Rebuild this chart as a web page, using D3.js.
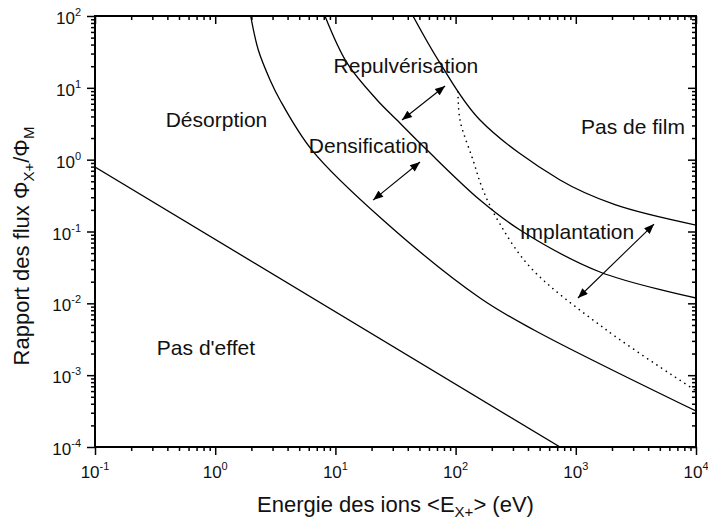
<!DOCTYPE html>
<html><head><meta charset="utf-8">
<script src="https://cdn.jsdelivr.net/npm/d3@7"></script>
<style>body{margin:0;background:#fff}svg{display:block;font-family:"Liberation Sans",Arial,sans-serif}</style>
</head><body><svg id="c" width="708" height="525"></svg>
<script>
// ---- data ----
const energyDomain = [0.1, 1e4];
const ratioDomain = [1e-4, 1e2];
const xTicks = [0.1, 1, 10, 100, 1000, 10000];
const xTickExp = ["-1", "0", "1", "2", "3", "4"];
const yTicks = [1e-4, 1e-3, 1e-2, 1e-1, 1, 10, 100];
const yTickExp = ["-4", "-3", "-2", "-1", "0", "1", "2"];

// [energy eV, flux ratio]
const boundaryEffet = [[0.1, 0.79], [739, 1e-4]];
const boundaryDensification = [[1.974, 100], [2.284, 33.6], [2.86, 12.9], [3.46, 6.78], [6.38, 1.36], [24.9, 0.1445], [159.6, 0.01186], [448.7, 0.004256], [10000, 3.17e-4]];
const boundaryRepulverisation = [[8.19, 100], [12.49, 22.2], [22.2, 6.78], [32.5, 3.56], [57.8, 1.36], [159.6, 0.274], [343.5, 0.105], [1589, 0.0273], [10000, 0.01186]];
const boundaryFilm = [[44.2, 100], [74.1, 22.2], [159.6, 3.56], [739, 0.521], [2118, 0.2366], [10000, 0.123]];
const boundaryImplantation = [[104.7, 8.75], [108.8, 3.56], [139.6, 0.989], [169, 0.378], [234, 0.127], [424, 0.031], [1750, 0.0044], [9810, 6.2e-4]];

const arrows = [
  [[35.8, 3.56], [81.7, 10.6]],
  [[20.6, 0.274], [50.6, 0.927]],
  [[1042, 0.01186], [4478, 0.127]]
];
const labels = [
  {text: "Repulvérisation", e: 38.6, r: 16.1},
  {text: "Désorption", e: 1.025, r: 2.85},
  {text: "Densification", e: 19.0, r: 1.24},
  {text: "Pas de film", e: 2992, r: 2.27},
  {text: "Implantation", e: 1023, r: 0.0786},
  {text: "Pas d'effet", e: 0.838, r: 0.00191}
];

// ---- drawing ----
const svg = d3.select("#c");
const L = 95, R = 696, T = 16, B = 447;
const x = d3.scaleLog().domain(energyDomain).range([L, R]);
const y = d3.scaleLog().domain(ratioDomain).range([B, T]);

svg.append("defs").append("clipPath").attr("id", "clip")
  .append("rect").attr("x", L).attr("y", T).attr("width", R - L).attr("height", B - T);
const mk = svg.select("defs").append("marker").attr("id", "ah")
  .attr("viewBox", "0 0 10 8").attr("refX", 10).attr("refY", 4)
  .attr("markerUnits", "userSpaceOnUse").attr("markerWidth", 11).attr("markerHeight", 8)
  .attr("orient", "auto-start-reverse");
mk.append("path").attr("d", "M0,0 L10,4 L0,8 Z").attr("fill", "#000");

const g = svg.append("g").attr("clip-path", "url(#clip)");
const line = d3.line().x(d => x(d[0])).y(d => y(d[1])).curve(d3.curveCatmullRom.alpha(0.5));
[boundaryEffet, boundaryDensification, boundaryRepulverisation, boundaryFilm].forEach(s => {
  g.append("path").attr("d", line(s)).attr("fill", "none").attr("stroke", "#000").attr("stroke-width", 1.3);
});
g.append("path").attr("d", line(boundaryImplantation)).attr("fill", "none").attr("stroke", "#000")
  .attr("stroke-width", 1.6).attr("stroke-dasharray", "0.1 5.5").attr("stroke-linecap", "round");

arrows.forEach(a => {
  svg.append("line").attr("x1", x(a[0][0])).attr("y1", y(a[0][1])).attr("x2", x(a[1][0])).attr("y2", y(a[1][1]))
    .attr("stroke", "#000").attr("stroke-width", 1.1)
    .attr("marker-start", "url(#ah)").attr("marker-end", "url(#ah)");
});

labels.forEach(l => {
  svg.append("text").attr("x", x(l.e)).attr("y", y(l.r)).attr("text-anchor", "middle")
    .attr("font-size", 21).attr("fill", "#111").text(l.text);
});

// axes
function styleAxis(sel) {
  sel.select(".domain").remove();
  sel.selectAll(".tick line").attr("stroke", "#000").attr("stroke-width", 1.5);
  sel.selectAll(".tick text").remove();
}
const xMinor = x.ticks().filter(v => !xTicks.some(t => Math.abs(t - v) / t < 1e-6));
const yMinor = y.ticks().filter(v => !yTicks.some(t => Math.abs(t - v) / t < 1e-6));

svg.append("g").attr("transform", `translate(0,${B})`).call(d3.axisBottom(x).tickValues(xTicks).tickSize(8)).call(styleAxis);
svg.append("g").attr("transform", `translate(0,${B})`).call(d3.axisBottom(x).tickValues(xMinor).tickSize(4)).call(styleAxis);
svg.append("g").attr("transform", `translate(0,${T})`).call(d3.axisBottom(x).tickValues(xTicks).tickSize(8)).call(styleAxis);
svg.append("g").attr("transform", `translate(0,${T})`).call(d3.axisBottom(x).tickValues(xMinor).tickSize(4)).call(styleAxis);
svg.append("g").attr("transform", `translate(${L},0)`).call(d3.axisLeft(y).tickValues(yTicks).tickSize(8)).call(styleAxis);
svg.append("g").attr("transform", `translate(${L},0)`).call(d3.axisLeft(y).tickValues(yMinor).tickSize(4)).call(styleAxis);
svg.append("g").attr("transform", `translate(${R},0)`).call(d3.axisLeft(y).tickValues(yTicks).tickSize(8)).call(styleAxis);
svg.append("g").attr("transform", `translate(${R},0)`).call(d3.axisLeft(y).tickValues(yMinor).tickSize(4)).call(styleAxis);

svg.append("rect").attr("x", L).attr("y", T).attr("width", R - L).attr("height", B - T)
  .attr("fill", "none").attr("stroke", "#000").attr("stroke-width", 2);

// tick labels
xTicks.forEach((v, i) => {
  const t = svg.append("text").attr("x", x(v)).attr("y", B + 31).attr("text-anchor", "middle").attr("font-size", 17).attr("fill", "#111");
  t.append("tspan").text("10");
  t.append("tspan").attr("font-size", 11).attr("dy", -8).text(xTickExp[i]);
});
yTicks.forEach((v, i) => {
  const t = svg.append("text").attr("x", L - 14).attr("y", y(v) + 8).attr("text-anchor", "end").attr("font-size", 17).attr("fill", "#111");
  t.append("tspan").text("10");
  t.append("tspan").attr("font-size", 11).attr("dy", -8).text(yTickExp[i]);
});

// axis titles
const xt = svg.append("text").attr("x", (L + R) / 2).attr("y", 512).attr("text-anchor", "middle").attr("font-size", 22).attr("fill", "#111");
xt.append("tspan").text("Energie des ions <E");
xt.append("tspan").attr("font-size", 15).attr("dy", 5).text("X+");
xt.append("tspan").attr("dy", -5).text("> (eV)");

const yt = svg.append("text").attr("transform", "translate(29,246) rotate(-90)").attr("text-anchor", "middle").attr("font-size", 22).attr("fill", "#111");
yt.append("tspan").text("Rapport des flux Φ");
yt.append("tspan").attr("font-size", 15).attr("dy", 5).text("X+");
yt.append("tspan").attr("dy", -5).text("/Φ");
yt.append("tspan").attr("font-size", 15).attr("dy", 5).text("M");
</script></body></html>
